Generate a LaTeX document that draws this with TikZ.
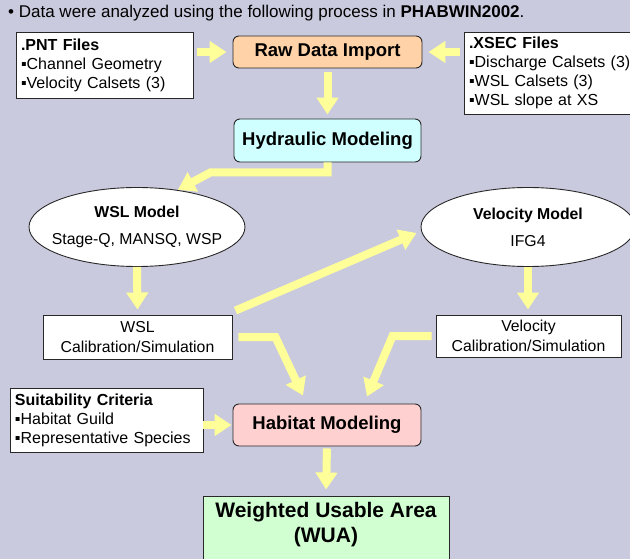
\documentclass[tikz,border=0pt]{standalone}
\usepackage{fontspec}
\setmainfont{Liberation Sans}
\usetikzlibrary{arrows.meta,shapes.geometric,calc}
\definecolor{bgc}{RGB}{202,202,222}
\definecolor{arrc}{RGB}{255,255,153}
\definecolor{rawc}{RGB}{255,210,168}
\definecolor{hydc}{RGB}{208,255,255}
\definecolor{habc}{RGB}{255,208,208}
\definecolor{wuac}{RGB}{210,255,210}
\definecolor{edgec}{RGB}{40,40,40}
\tikzset{
  arr/.style={draw=arrc, line width=8pt, line join=miter,
    -{Triangle[width=21pt,length=17pt,fill=arrc]}},
  listbox/.style={draw=edgec, line width=0.9pt, fill=white, align=left,
    inner xsep=5pt, inner ysep=0pt, anchor=center,
    font=\fontsize{16}{19}\selectfont},
  plainbox/.style={draw=edgec, line width=0.9pt, fill=white, align=center,
    inner sep=0pt, font=\fontsize{15.8}{19.5}\selectfont},
  procbox/.style={draw=edgec, line width=0.9pt, rounded corners=6pt,
    inner sep=0pt, font=\fontsize{18.5}{20}\selectfont\bfseries},
  modell/.style={ellipse, draw=edgec, line width=0.9pt, fill=white,
    inner sep=0pt},
  modeltext/.style={align=center, inner sep=0pt, font=\fontsize{15.8}{27}\selectfont},
}
\begin{document}
\begin{tikzpicture}[x=1pt,y=-1pt]
\useasboundingbox (0,0) rectangle (630,559);
\clip (0,0) rectangle (630,559);
\fill[bgc] (0,0) rectangle (630,559);

\node[anchor=west, font=\fontsize{17}{18}\selectfont, inner sep=0pt] (title) at (8,13)
  {• Data were analyzed using the following process in \textbf{PHABWIN2002}.};

\node[listbox, text width=167pt, minimum height=66pt] (pnt) at (104.5,65)
  {\textbf{.PNT Files}\\▪Channel Geometry\\▪Velocity Calsets (3)};
\node[procbox, fill=rawc, minimum width=189pt, minimum height=32pt] (raw) at (327.5,52)
  {Raw Data Import};
\node[listbox, text width=166pt, minimum height=82pt] (xsec) at (552,73)
  {\textbf{.XSEC Files}\\▪Discharge Calsets (3)\\▪WSL Calsets (3)\\▪WSL slope at XS};

\node[procbox, fill=hydc, minimum width=187pt, minimum height=43pt] (hyd) at (327.5,140.5)
  {Hydraulic Modeling};

\node[modell, minimum width=216pt, minimum height=79pt,
  label={[modeltext]center:\textbf{WSL Model}\\Stage-Q, MANSQ, WSP}] (wsl) at (137,227) {};
\node[modell, minimum width=214pt, minimum height=79pt,
  label={[modeltext]center:\textbf{Velocity Model}\\IFG4}] (vel) at (528,227) {};

\node[plainbox, minimum width=189pt, minimum height=44pt] (wslc) at (137.5,337)
  {WSL\\Calibration/Simulation};
\node[plainbox, minimum width=185pt, minimum height=42pt] (velc) at (528.5,336)
  {Velocity\\Calibration/Simulation};

\node[listbox, text width=183pt, minimum height=64pt] (suit) at (106.5,420)
  {\textbf{Suitability Criteria}\\▪Habitat Guild\\▪Representative Species};
\node[procbox, fill=habc, minimum width=188pt, minimum height=42pt] (hab) at (327,425)
  {Habitat Modeling};

\node[draw=edgec, line width=0.9pt, fill=wuac, minimum width=246pt, minimum height=70pt, inner sep=0pt] (wua) at (326,531) {};
\node[align=center, inner sep=0pt, font=\fontsize{21}{25}\selectfont\bfseries] (wuat) at (326,524.5)
  {Weighted Usable Area\\(WUA)};

% connectors
\draw[arr, shorten <=4pt, shorten >=6pt] (pnt.east |- raw.west) -- (raw.west);
\draw[arr, shorten <=4pt, shorten >=6pt] (xsec.west |- raw.east) -- (raw.east);
\draw[arr, shorten <=4pt, shorten >=4pt] (raw.south) -- (hyd.north);
\draw[arr] (hyd.south) -- ++(0,10) -- ++(-117,0) -- ([shift={(1,0)}]wsl.43);
\draw[arr, shorten >=5pt] (wsl.south) -- (wslc.north);
\draw[arr, shorten >=5pt] (vel.south) -- (vel.south |- velc.north);
\draw[arr] ([shift={(3,-4)}]wslc.north east) -- ([shift={(-4,6)}]vel.west);
\draw[arr] ([xshift=6pt]wslc.east) -- ++(37,0) -- ([shift={(-24,-8)}]hab.north);
\draw[arr] ([xshift=-4pt]velc.west) -- ++(-39,0) -- ([shift={(40,-7)}]hab.north);
\draw[arr, shorten >=1pt] (suit.east |- hab.west) -- (hab.west);
\draw[arr, shorten <=2pt, shorten >=6pt] (hab.south) -- (wua.north);
\end{tikzpicture}
\end{document}
